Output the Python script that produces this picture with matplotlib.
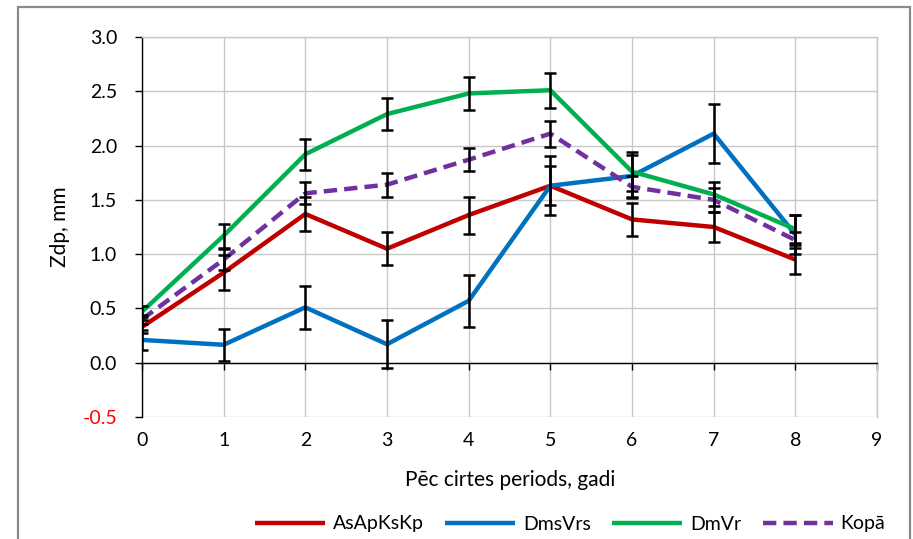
import matplotlib
matplotlib.use("Agg")
import matplotlib.pyplot as plt
from matplotlib.patches import Rectangle

plt.rcParams['font.family'] = ['Lato', 'DejaVu Sans']

years = [0, 1, 2, 3, 4, 5, 6, 7, 8]

asapkskp = [0.33, 0.83, 1.37, 1.05, 1.36, 1.63, 1.32, 1.25, 0.95]
asapkskp_err = [0.06, 0.16, 0.16, 0.15, 0.17, 0.18, 0.15, 0.14, 0.13]

dmsvrs = [0.21, 0.165, 0.51, 0.17, 0.57, 1.63, 1.72, 2.11, 1.18]
dmsvrs_err = [0.09, 0.145, 0.20, 0.22, 0.24, 0.27, 0.19, 0.27, 0.18]

dmvr = [0.47, 1.17, 1.92, 2.29, 2.48, 2.51, 1.76, 1.55, 1.23]
dmvr_err = [0.05, 0.11, 0.145, 0.15, 0.15, 0.16, 0.18, 0.11, 0.13]

kopa = [0.40, 0.95, 1.56, 1.64, 1.87, 2.11, 1.62, 1.50, 1.13]
kopa_err = [0.04, 0.10, 0.10, 0.11, 0.105, 0.12, 0.10, 0.11, 0.07]

x_ticks = [0, 1, 2, 3, 4, 5, 6, 7, 8, 9]
y_ticks = [-0.5, 0.0, 0.5, 1.0, 1.5, 2.0, 2.5, 3.0]

series = [
    ("AsApKsKp", asapkskp, asapkskp_err, "#C00000", "-"),
    ("DmsVrs", dmsvrs, dmsvrs_err, "#0070C0", "-"),
    ("DmVr", dmvr, dmvr_err, "#00B050", "-"),
    ("Kopā", kopa, kopa_err, "#7030A0", (0, (3.0, 1.6))),
]

fig = plt.figure(figsize=(9.13, 5.39), dpi=100)
ax = fig.add_axes([142 / 913, 1 - 417 / 539, (877 - 142) / 913, (417 - 37) / 539])

# outer chart frame
fig.patches.append(Rectangle((18 / 913, -0.05), (910 - 18) / 913, 1 - 7 / 539 + 0.05,
                             transform=fig.transFigure, fill=False,
                             edgecolor="#8a8a8a", linewidth=1.6))

handles = []
for name, vals, err, color, ls in series:
    line, = ax.plot(years, vals, color=color, linestyle=ls, linewidth=3.2,
                    solid_capstyle="butt", dash_capstyle="butt", zorder=3, label=name)
    handles.append(line)

for name, vals, err, color, ls in series:
    ax.errorbar(years, vals, yerr=err, fmt="none", ecolor="black",
                elinewidth=1.8, capsize=4.5, capthick=1.8, zorder=4)

ax.set_xlim(0, 9)
ax.set_ylim(-0.5, 3.0)
ax.set_xticks(x_ticks)
ax.set_yticks(y_ticks)
ax.set_yticklabels([f"{v:.1f}" for v in y_ticks])
ax.grid(True, color="#c8c8c8", linewidth=1.0)
ax.set_axisbelow(True)

for side in ("top", "right"):
    ax.spines[side].set_color("#c8c8c8")
    ax.spines[side].set_linewidth(1.0)
ax.spines["left"].set_color("black")
ax.spines["left"].set_linewidth(1.0)
ax.spines["bottom"].set_position(("data", 0))
ax.spines["bottom"].set_color("black")
ax.spines["bottom"].set_linewidth(1.0)
ax.spines["bottom"].set_zorder(2.5)

ax.tick_params(axis="x", direction="out", length=5, width=1, color="black",
               labelbottom=False)
ax.tick_params(axis="y", direction="out", length=5, width=1, color="black",
               labelsize=14, pad=13)

# x tick labels sit below the plot area
sec = ax.secondary_xaxis(0.0)
sec.set_xticks(x_ticks)
sec.tick_params(length=0, labelsize=14, pad=11)
sec.spines["bottom"].set_visible(False)

for lbl in ax.get_yticklabels():
    if lbl.get_text().startswith("-"):
        lbl.set_color("#FF0000")

ax.set_ylabel("Zdp, mm", fontsize=15)
ax.yaxis.set_label_coords(-0.098, 0.5)
fig.text(510 / 913, 1 - 480 / 539, "Pēc cirtes periods, gadi", ha="center",
         va="center", fontsize=15)

fig.legend(handles=handles, loc="center right", bbox_to_anchor=(893 / 913, 1 - 524 / 539),
           ncol=4, frameon=False, fontsize=14, handlelength=3.6, handletextpad=0.4,
           columnspacing=1.1, borderaxespad=0)

fig.savefig("out.png", dpi=100)
